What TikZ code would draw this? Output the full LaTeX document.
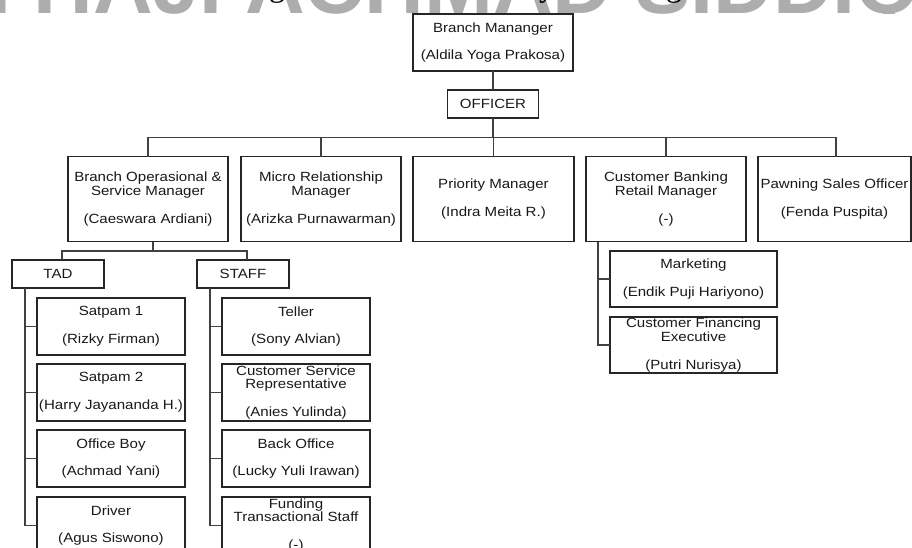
\documentclass[tikz,border=0pt]{standalone}
\usepackage{fontspec}
\setmainfont{Liberation Sans}[FakeStretch=1.13]
\newfontfamily\wmfont{Liberation Sans}
\newfontfamily\capfont{Liberation Serif}
\begin{document}
\begin{tikzpicture}[x=0.75pt,y=-0.75pt,
  every node/.style={inner sep=0pt, outer sep=0pt, align=center,
    font=\fontsize{10pt}{10.3pt}\selectfont, text=black!90},
  box/.style 2 args={draw=black!85, line width=0.9pt,
    minimum width=#1*0.75pt, minimum height=#2*0.75pt},
  conn/.style={draw=black!75, line width=0.9pt},
  wmark/.style={anchor=base west, font=\wmfont\fontsize{62pt}{62pt}\selectfont\bfseries, text=black!32},
  captail/.style={anchor=base, font=\capfont\fontsize{24pt}{24pt}\selectfont, text=black}
]
\useasboundingbox (0,0) rectangle (912,547);
\clip (0,0) rectangle (912,547);
\fill[white] (0,0) rectangle (912,547);

% cropped watermark and caption fragments at the top edge
\begin{scope}
  \clip (0,0) rectangle (912,13);
  \node[wmark] (wm) at (-12,13) {I HAJI ACHMAD SIDDIQ};
  \node[captail] (cg1) at (277,-4) {g};
  \node[captail] (cy) at (547,-4) {y};
  \node[captail] (cg2) at (674,-4) {g};
\end{scope}

% top
\node[box={160}{57}] (bm) at (493,42.5) {Branch Mananger\\[10.5pt](Aldila Yoga Prakosa)};
\node[box={91}{28}] (off) at (493,104) {OFFICER};

% level 2
\node[box={160}{85}] (b1) at (148,199) {Branch Operasional \&\\Service Manager\\[10.5pt](Caeswara Ardiani)};
\node[box={160}{85}] (b2) at (321,199) {Micro Relationship\\Manager\\[10.5pt](Arizka Purnawarman)};
\node[box={161}{85}] (b3) at (493.5,199) {Priority Manager\\[10.5pt](Indra Meita R.)};
\node[box={160}{85}] (b4) at (666,199) {Customer Banking\\Retail Manager\\[10.5pt](-)};
\node[box={153}{85}] (b5) at (834.5,199) {Pawning Sales Officer\\[10.5pt](Fenda Puspita)};

% TAD / STAFF
\node[box={92}{28}] (tad) at (58,274) {TAD};
\node[box={92}{28}] (staff) at (243,274) {STAFF};

% TAD column
\node[box={148}{57}] (s1) at (111,326.5) {Satpam 1\\[10.5pt](Rizky Firman)};
\node[box={148}{57}] (s2) at (111,392.5) {Satpam 2\\[10.5pt](Harry Jayananda H.)};
\node[box={148}{57}] (ob) at (111,458.5) {Office Boy\\[10.5pt](Achmad Yani)};
\node[box={148}{57}] (dr) at (111,525.5) {Driver\\[10.5pt](Agus Siswono)};

% STAFF column
\node[box={148}{57}] (tl) at (296,326.5) {Teller\\[10.5pt](Sony Alvian)};
\node[box={148}{57}] (csr) at (296,392.5) {Customer Service\\Representative\\[10.5pt](Anies Yulinda)};
\node[box={148}{57}] (bo) at (296,458.5) {Back Office\\[10.5pt](Lucky Yuli Irawan)};
\node[box={148}{57}] (fts) at (296,525.5) {Funding\\Transactional Staff\\[10.5pt](-)};

% Customer banking column
\node[box={167}{56}] (mk) at (693.5,279) {Marketing\\[10.5pt](Endik Puji Hariyono)};
\node[box={167}{56}] (cfe) at (693.5,345) {Customer Financing\\Executive\\[10.5pt](Putri Nurisya)};

% connectors
\coordinate (busL) at (148,137.5);
\coordinate (busR) at (836,137.5);
\draw[conn] (bm.south) -- (off.north);
\draw[conn] (off.south) -- (off.south |- busL);
\draw[conn] (b1.north) -- (busL) -- (busR) -- (b5.north -| busR);
\draw[conn] (b2.north) -- (b2.north |- busL);
\draw[conn] (b3.north) -- (b3.north |- busL);
\draw[conn] (b4.north) -- (b4.north |- busL);

\coordinate (sb) at (153,251);
\coordinate (sbL) at (62,251);
\coordinate (sbR) at (247,251);
\draw[conn] (sb |- b1.south) -- (sb);
\draw[conn] (tad.north -| sbL) -- (sbL) -- (sbR) -- (staff.north -| sbR);

\coordinate (tv) at (25,0);
\draw[conn] (tad.south -| tv) -- (dr.west -| tv) -- (dr.west);
\draw[conn] (s1.west -| tv) -- (s1.west);
\draw[conn] (s2.west -| tv) -- (s2.west);
\draw[conn] (ob.west -| tv) -- (ob.west);

\coordinate (sv) at (210,0);
\draw[conn] (staff.south -| sv) -- (fts.west -| sv) -- (fts.west);
\draw[conn] (tl.west -| sv) -- (tl.west);
\draw[conn] (csr.west -| sv) -- (csr.west);
\draw[conn] (bo.west -| sv) -- (bo.west);

\coordinate (cv) at (598,0);
\draw[conn] (b4.south -| cv) -- (cfe.west -| cv) -- (cfe.west);
\draw[conn] (mk.west -| cv) -- (mk.west);
\end{tikzpicture}
\end{document}
